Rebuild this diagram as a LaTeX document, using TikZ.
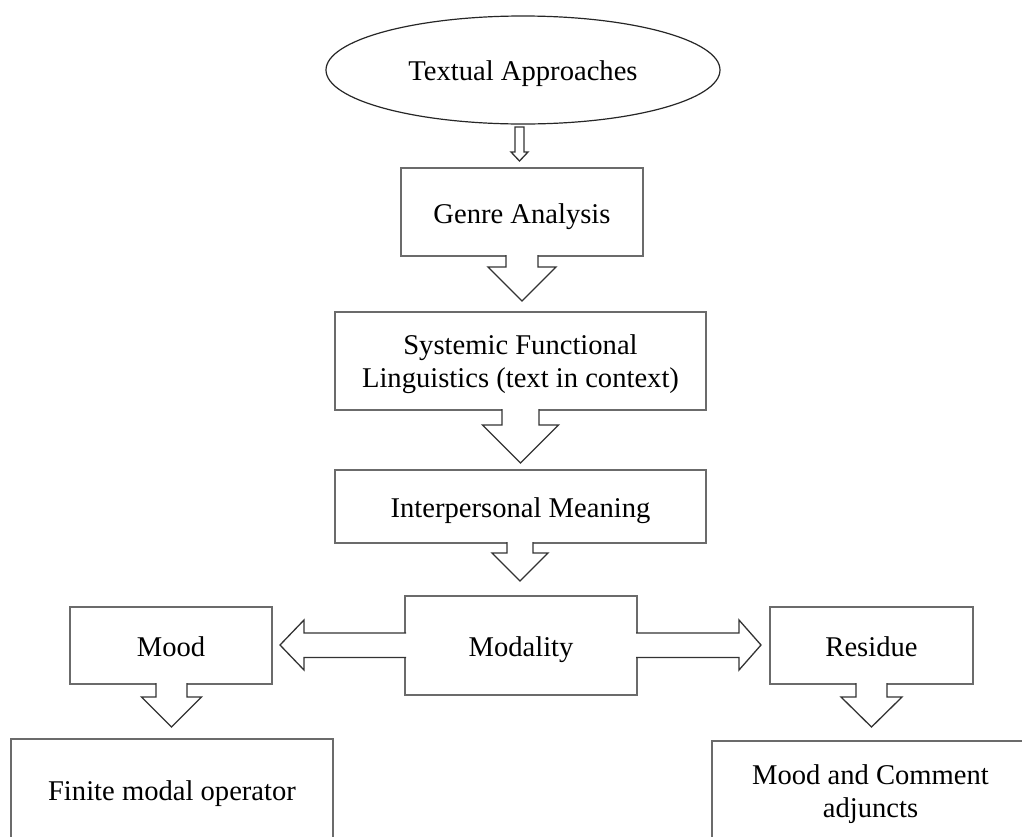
\documentclass[tikz,border=0pt]{standalone}
\usepackage{fontspec}
\setmainfont{Liberation Serif}
\usetikzlibrary{shapes.geometric}
\tikzset{
  box/.style={draw=black!58, line width=1.8pt, fill=white, inner sep=0pt, align=center, text height=22pt, text depth=0pt},
  oval/.style={draw=black!85, line width=1.2pt, ellipse, inner sep=0pt, text height=21pt, text depth=1pt},
  txt/.style={inner sep=0pt, align=center},
  blockarrow/.style={draw=black!80, line width=1.3pt, fill=white, line join=miter},
}
\newcommand\dnarrow[6]{% cx, ytop, ybase, ytip, shafthalf, headhalf
  \draw[blockarrow] ({#1-#5},#2) -- ({#1-#5},#3) -- ({#1-#6},#3) -- (#1,#4) -- ({#1+#6},#3) -- ({#1+#5},#3) -- ({#1+#5},#2);}
\begin{document}
\begin{tikzpicture}[x=1pt, y=-1pt, font=\fontsize{28.6}{33}\selectfont]
\useasboundingbox (0,0) rectangle (1022,836);
\clip (0,0) rectangle (1022,836);

% nodes
\node[oval, minimum width=394pt, minimum height=108pt] (ta) at (523,70) {Textual Approaches};
\node[box, minimum width=242pt, minimum height=88pt] (genre) at (522,212) {Genre Analysis};
\node[box, minimum width=371pt, minimum height=98pt] (sfl) at (520.5,361) {};
\node[txt] (sfltext) at (520.5,364) {Systemic Functional\\Linguistics (text in context)};
\node[box, minimum width=371pt, minimum height=73pt] (im) at (520.5,506.5) {Interpersonal Meaning};
\node[box, minimum width=232pt, minimum height=99pt] (modality) at (521,645.5) {Modality};
\node[box, minimum width=202pt, minimum height=77pt] (mood) at (171,645.5) {Mood};
\node[box, minimum width=203pt, minimum height=77pt] (residue) at (871.5,645.5) {Residue};
\node[box, minimum width=322pt, minimum height=140pt, anchor=north] (finite) at (172,738) {};
\node[txt] (finitetext) at (172,794) {Finite modal operator};
\node[box, minimum width=319pt, minimum height=140pt, anchor=north west] (mc) at (711,740) {};
\node[txt] (mctext) at (870.5,794) {Mood and Comment\\adjuncts};

% block arrows
\draw[blockarrow] (515,127) -- (515,152) -- (511,152) -- (519.5,161) -- (528,152) -- (524,152) -- (524,127) -- cycle;
\dnarrow{522}{255}{267}{301}{16}{34}
\dnarrow{520.5}{409}{425}{463}{18.5}{38}
\dnarrow{520}{542}{553}{581}{13}{28}
\dnarrow{171.5}{683}{697}{727}{15.5}{30}
\dnarrow{871.5}{683}{697}{727}{15.5}{30.5}

% left arrow (Modality -> Mood)
\draw[blockarrow] (406,633) -- (304,633) -- (304,620) -- (280,645) -- (304,670) -- (304,657.5) -- (406,657.5);
% right arrow (Modality -> Residue)
\draw[blockarrow] (636,633) -- (739,633) -- (739,620) -- (761,645) -- (739,670) -- (739,657.5) -- (636,657.5);
\end{tikzpicture}
\end{document}
